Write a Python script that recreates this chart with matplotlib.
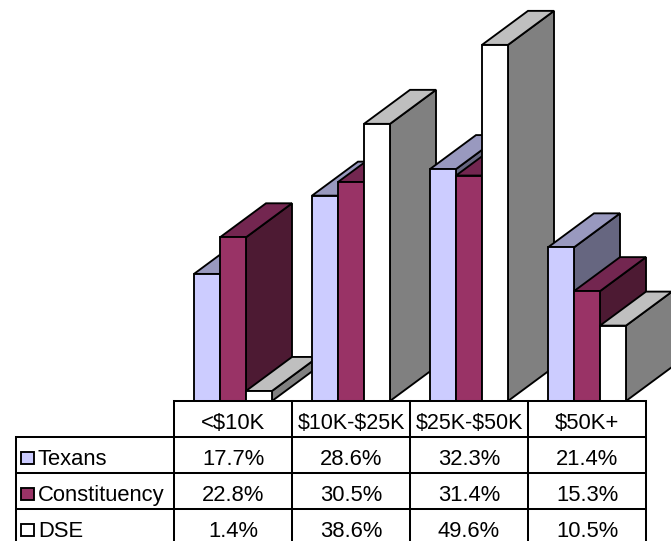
import matplotlib
matplotlib.use("Agg")
import matplotlib.pyplot as plt
from matplotlib.patches import Polygon, Rectangle

plt.rcParams["font.family"] = ["Liberation Sans", "DejaVu Sans"]
plt.rcParams["text.parse_math"] = False

categories = ["<$10K", "$10K-$25K", "$25K-$50K", "$50K+"]
series_names = ["Texans", "Constituency", "DSE"]
texans = [17.7, 28.6, 32.3, 21.4]
constituency = [22.8, 30.5, 31.4, 15.3]
dse = [1.4, 38.6, 49.6, 10.5]
all_series = [texans, constituency, dse]

front_colors = ["#CCCCFF", "#993366", "#FFFFFF"]
top_colors = ["#9999BF", "#732650", "#BFBFBF"]
side_colors = ["#666680", "#4D1A33", "#808080"]

W, H = 671, 541
BASE_Y = 401       # pixel row of the zero line
PX_PER_PCT = 7.18
FIRST_BAR_X = 194
GROUP_STEP = 118
BAR_W = 26
DEPTH_X, DEPTH_Y = 46, 34
LW = 1.35

fig = plt.figure(figsize=(W / 100, H / 100), dpi=100, facecolor="white")

# bars: y axis is in percent, x axis in pixels
ax = fig.add_axes([0, 0, 1, 1])
ax.set_xlim(0, W)
ax.set_ylim(-(H - BASE_Y) / PX_PER_PCT, BASE_Y / PX_PER_PCT)
ax.axis("off")

dx = DEPTH_X
dy = DEPTH_Y / PX_PER_PCT
for g in range(len(categories)):
    for s, values in enumerate(all_series):
        x0 = FIRST_BAR_X + g * GROUP_STEP + s * BAR_W
        x1 = x0 + BAR_W
        v = values[g]
        side = [(x1, 0), (x1 + dx, dy), (x1 + dx, v + dy), (x1, v)]
        top = [(x0, v), (x0 + dx, v + dy), (x1 + dx, v + dy), (x1, v)]
        front = [(x0, 0), (x0, v), (x1, v), (x1, 0)]
        for pts, col in ((side, side_colors[s]), (top, top_colors[s]), (front, front_colors[s])):
            ax.add_patch(Polygon(pts, closed=True, facecolor=col, edgecolor="black",
                                 linewidth=LW, joinstyle="miter"))

# data table below, laid out in pixels
tb = fig.add_axes([0, 0, 1, 1])
tb.set_xlim(0, W)
tb.set_ylim(H, 0)
tb.axis("off")
tb.patch.set_alpha(0)

col_x = [174, 292, 410, 528, 646]
row_y = [401, 437, 473, 509, 545]
LEFT = 16
FONT = 15.8

tb.plot([col_x[0], col_x[-1]], [row_y[0], row_y[0]], color="black", lw=LW + 0.1)
for y in row_y[1:]:
    tb.plot([LEFT, col_x[-1]], [y, y], color="black", lw=LW + 0.1)
tb.plot([LEFT, LEFT], [row_y[1], row_y[-1]], color="black", lw=LW + 0.1)
for x in col_x:
    tb.plot([x, x], [row_y[0], row_y[-1]], color="black", lw=LW + 0.1)

for c, label in enumerate(categories):
    size = FONT - 0.3 if c in (1, 2) else FONT
    tb.text((col_x[c] + col_x[c + 1]) / 2, row_y[0] + 28, label, ha="center",
            va="baseline", fontsize=size, color="black")

for s, name in enumerate(series_names):
    base = row_y[s + 1] + 28
    tb.add_patch(Rectangle((20.5, base - 13.5), 13.5, 12.5, facecolor=front_colors[s],
                           edgecolor="black", linewidth=LW))
    tb.text(38, base, name, ha="left", va="baseline", fontsize=FONT, color="black")
    for c, v in enumerate(all_series[s]):
        tb.text((col_x[c] + col_x[c + 1]) / 2, base, f"{v:.1f}%", ha="center",
                va="baseline", fontsize=FONT, color="black")

fig.savefig("out.png", dpi=100)
